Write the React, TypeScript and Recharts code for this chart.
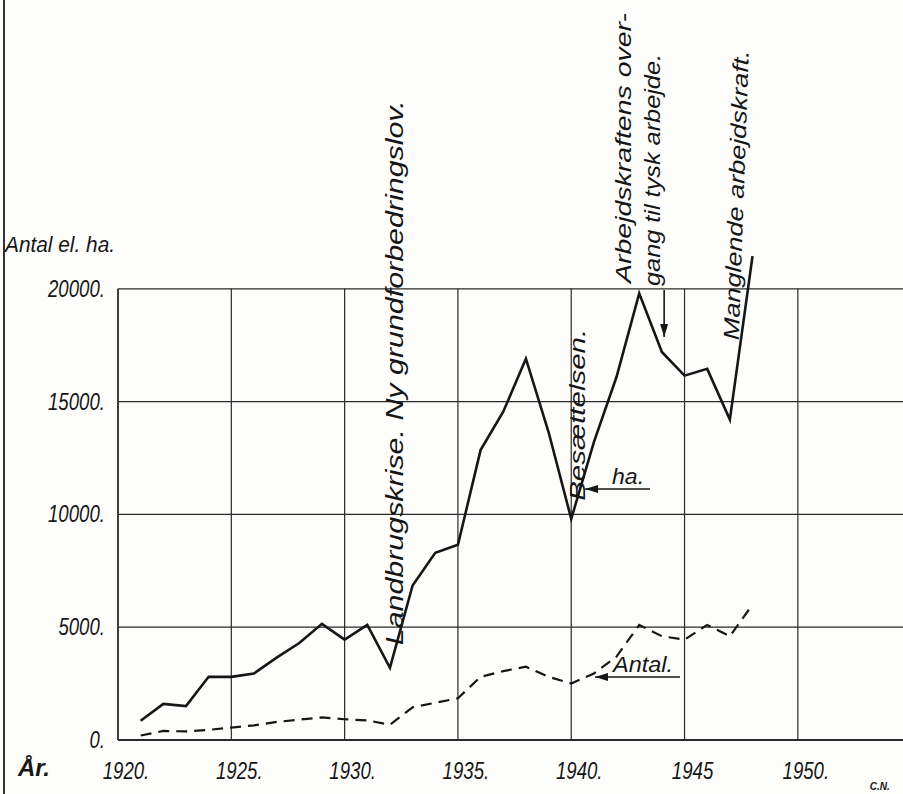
import React from "react";
import { LineChart, Line, XAxis, YAxis, ReferenceLine, ReferenceDot } from "recharts";

const years = [
  1921, 1922, 1923, 1924, 1925, 1926, 1927, 1928, 1929, 1930, 1931, 1932, 1933, 1934,
  1935, 1936, 1937, 1938, 1939, 1940, 1941, 1942, 1943, 1944, 1945, 1946, 1947, 1948,
];
const ha = [
  850, 1600, 1500, 2800, 2800, 2950, 3650, 4300, 5150, 4450, 5100, 3200, 6850, 8300,
  8650, 12850, 14550, 16900, 13650, 9800, 13200, 16100, 19800, 17200, 16150, 16450, 14200, 21450,
];
const antal = [
  200, 400, 380, 450, 550, 650, 800, 900, 1000, 920, 870, 680, 1450, 1650,
  1850, 2800, 3050, 3250, 2800, 2500, 2950, 3700, 5100, 4600, 4450, 5100, 4600, 6000,
];
const xTicks = [1920, 1925, 1930, 1935, 1940, 1945, 1950];
const xTickLabels = ["1920.", "1925.", "1930.", "1935.", "1940.", "1945", "1950."];
const yTicks = [0, 5000, 10000, 15000, 20000];

const data = years.map((year, i) => ({ year, ha: ha[i], antal: antal[i] }));

const FONT = "'Liberation Sans', Arial, sans-serif";
const INK = "#161616";

// narrow handwritten-looking numbers: squeeze to a fixed width per glyph
const labelLen = (s: string) => s.replace(/\./g, "").length * 10.4 + (s.includes(".") ? 5 : 0);

const XTick = (props: any) => {
  const { x, y, payload } = props;
  const label = xTickLabels[xTicks.indexOf(payload.value)];
  return (
    <text x={x + 8} y={y + 31} textAnchor="middle" fontFamily={FONT} fontStyle="italic" fontSize={23} fill={INK}
      textLength={labelLen(label)} lengthAdjust="spacingAndGlyphs">
      {label}
    </text>
  );
};

const YTick = (props: any) => {
  const { y, payload } = props;
  const label = `${payload.value}.`;
  return (
    <text x={105} y={y + 8} textAnchor="end" fontFamily={FONT} fontStyle="italic" fontSize={23} fill={INK}
      textLength={labelLen(label)} lengthAdjust="spacingAndGlyphs">
      {label}
    </text>
  );
};

// rotated handwritten note, starting at the dot and running upwards
const vNote = (text: string, size: number, len: number, angle = -90) => (p: any) => (
  <text
    x={p.cx}
    y={p.cy}
    dy="0.35em"
    transform={`rotate(${angle} ${p.cx} ${p.cy})`}
    fontFamily={FONT}
    fontStyle="italic"
    fontSize={size}
    fill={INK}
    textLength={len}
    lengthAdjust="spacingAndGlyphs"
  >
    {text}
  </text>
);

const plainNote = (text: string, size: number, dx: number, dy: number, anchor = "start", len?: number, weight = "normal") => (p: any) => (
  <text
    x={p.cx + dx}
    y={p.cy + dy}
    textAnchor={anchor}
    fontFamily={FONT}
    fontStyle="italic"
    fontWeight={weight}
    fontSize={size}
    fill={INK}
    textLength={len}
    lengthAdjust={len ? "spacingAndGlyphs" : undefined}
  >
    {text}
  </text>
);

// arrow pointing left to the dot, with a label on the shaft
const leftArrow = (text: string, shaft: number, tx: number, tlen: number) => (p: any) => (
  <g>
    <line x1={p.cx} y1={p.cy} x2={p.cx + shaft} y2={p.cy} stroke={INK} strokeWidth={1.6} />
    <polygon points={`${p.cx},${p.cy} ${p.cx + 13},${p.cy - 4} ${p.cx + 13},${p.cy + 4}`} fill={INK} />
    <text x={p.cx + tx} y={p.cy - 5} fontFamily={FONT} fontStyle="italic" fontSize={22} fill={INK} textLength={tlen} lengthAdjust="spacingAndGlyphs">
      {text}
    </text>
  </g>
);

const downArrow = (p: any) => (
  <g>
    <line x1={p.cx} y1={p.cy} x2={p.cx} y2={p.cy - 47} stroke={INK} strokeWidth={1.6} />
    <polygon points={`${p.cx},${p.cy} ${p.cx - 4},${p.cy - 13} ${p.cx + 4},${p.cy - 13}`} fill={INK} />
  </g>
);

export default function App() {
  return (
    <div style={{ position: "absolute", left: 0, top: 0, width: 903, height: 794, background: "#fdfdfb" }}>
      <div style={{ position: "absolute", left: 3, top: 0, width: 2, height: 794, background: "#333" }} />
      <LineChart width={903} height={794} data={data} margin={{ top: 0, right: 0, left: 0, bottom: 0 }}>
        <XAxis
          type="number"
          dataKey="year"
          domain={[1920, 1954.64]}
          ticks={xTicks}
          height={54}
          axisLine={false}
          tickLine={false}
          tick={<XTick />}
          allowDataOverflow
        />
        <YAxis
          type="number"
          domain={[0, 32800]}
          ticks={yTicks}
          width={118}
          axisLine={false}
          tickLine={false}
          tick={<YTick />}
          allowDataOverflow
        />
        {yTicks.map((v) => (
          <ReferenceLine key={`h${v}`} y={v} stroke="#2a2a2a" strokeWidth={v === 0 ? 2 : 1.3} />
        ))}
        {xTicks.map((v) => (
          <ReferenceLine
            key={`v${v}`}
            segment={[{ x: v, y: 0 }, { x: v, y: 20000 }]}
            stroke="#2a2a2a"
            strokeWidth={v === 1920 ? 1.8 : 1.2}
          />
        ))}
        <Line type="linear" dataKey="antal" stroke={INK} strokeWidth={2.2} strokeDasharray="11 7" dot={false} isAnimationActive={false} />
        <Line type="linear" dataKey="ha" stroke={INK} strokeWidth={2.6} dot={false} isAnimationActive={false} />

        <ReferenceDot x={1932.22} y={4200} ifOverflow="visible" shape={vNote("Landbrugskrise. Ny grundforbedringslov.", 24, 545)} />
        <ReferenceDot x={1940.26} y={10600} ifOverflow="visible" shape={vNote("Besættelsen.", 22, 172)} />
        <ReferenceDot x={1942.29} y={20257} ifOverflow="visible" shape={vNote("Arbejdskraftens over-", 22, 270)} />
        <ReferenceDot x={1943.57} y={20124} ifOverflow="visible" shape={vNote("gang til tysk arbejde.", 22, 232)} />
        <ReferenceDot x={1947.05} y={17730} ifOverflow="visible" shape={vNote("Manglende arbejdskraft.", 22, 290, -88)} />
        <ReferenceDot x={1944.1} y={17863} ifOverflow="visible" shape={downArrow} />
        <ReferenceDot x={1940.61} y={11126} ifOverflow="visible" shape={leftArrow("ha.", 65, 27, 32)} />
        <ReferenceDot x={1941.05} y={2793} ifOverflow="visible" shape={leftArrow("Antal.", 85, 18, 60)} />
        <ReferenceDot x={1920} y={20000} ifOverflow="visible" shape={plainNote("Antal el. ha.", 22, -3, -37, "end", 110)} />
        <ReferenceDot x={1920} y={0} ifOverflow="visible" shape={plainNote("År.", 24, -100, 36, "start", undefined, "bold")} />
        <ReferenceDot x={1950} y={0} ifOverflow="visible" shape={plainNote("C.N.", 10, 72, 50, "start", undefined, "bold")} />
      </LineChart>
    </div>
  );
}
